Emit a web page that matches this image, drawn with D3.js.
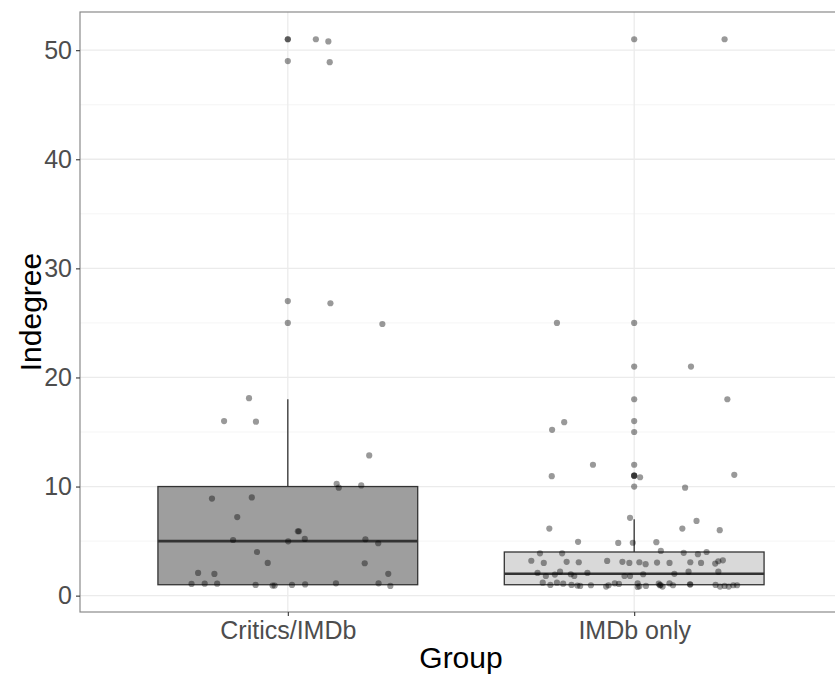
<!DOCTYPE html>
<html>
<head>
<meta charset="utf-8">
<script src="https://cdn.jsdelivr.net/npm/d3@7"></script>
<style>
  body { margin: 0; background: #fff; }
  text { font-family: "Liberation Sans", Arial, sans-serif; }
</style>
</head>
<body>
<svg id="chart" width="835" height="675"></svg>
<script>
// groups and box statistics
var groups = ["Critics/IMDb", "IMDb only"];
var boxFill = ["#9e9e9e", "#d9d9d9"];
var q1 = [1, 1];
var median = [5, 2];
var q3 = [10, 4];
var whiskerLow = [1, 1];
var whiskerHigh = [18, 7];
var outliersCritics = [51, 51, 49, 27, 25];
var outliersImdb = [51, 25, 21, 18, 16, 15, 12, 11, 11, 11, 10];

// jittered points: [x offset from group centre, indegree]
var jitterCritics = [
  [0.081, 51.0], [0.117, 50.8], [0.121, 48.9], [0.123, 26.8], [0.273, 24.9],
  [-0.112, 18.1], [-0.184, 16.0], [-0.092, 15.95], [0.235, 12.85],
  [0.141, 10.25], [0.147, 9.9], [0.212, 10.1], [-0.219, 8.9], [-0.104, 9.0],
  [-0.146, 7.2], [0.029, 5.9], [0.032, 5.9], [-0.158, 5.1], [0.001, 4.98],
  [0.049, 5.2], [0.224, 5.17], [0.261, 4.8], [-0.089, 4.0], [-0.058, 3.0],
  [0.222, 2.97], [-0.259, 2.08], [-0.212, 1.99], [0.290, 2.0],
  [-0.278, 1.07], [-0.240, 1.1], [-0.204, 1.1], [-0.093, 0.98],
  [-0.044, 0.92], [-0.038, 0.92], [0.012, 0.98], [0.050, 1.03],
  [0.139, 1.13], [0.262, 1.13], [0.296, 0.89]
];
var jitterImdb = [
  [0.261, 51.0], [-0.223, 25.0], [0.164, 21.0], [0.269, 18.0], [-0.202, 15.9],
  [-0.237, 15.2], [-0.119, 12.0], [-0.238, 10.95], [0.017, 10.85], [0.289, 11.07],
  [0.147, 9.9], [-0.012, 7.13], [0.180, 6.85], [-0.245, 6.15], [0.139, 6.15],
  [0.247, 6.0], [-0.162, 4.93], [-0.046, 4.83], [-0.004, 4.85], [0.064, 4.9],
  [-0.272, 3.88], [-0.208, 3.88], [0.077, 4.1], [0.143, 3.92], [0.184, 3.8],
  [0.209, 4.0], [-0.297, 3.2], [-0.261, 3.0], [-0.195, 3.1], [-0.160, 3.06],
  [-0.078, 3.18], [-0.034, 3.1], [-0.014, 3.0], [0.015, 3.06], [0.033, 2.88],
  [0.066, 3.03], [0.102, 3.0], [0.162, 3.06], [0.193, 3.0], [0.234, 2.94],
  [0.243, 3.15], [0.256, 3.24], [-0.279, 2.08], [-0.255, 1.8], [-0.229, 1.93],
  [-0.214, 2.2], [-0.183, 1.96], [-0.173, 1.8], [-0.135, 2.08], [-0.028, 1.8],
  [-0.012, 1.8], [0.026, 1.96], [0.116, 2.0], [0.157, 2.2], [0.243, 2.2],
  [-0.264, 1.19], [-0.242, 0.98], [-0.223, 1.19], [-0.205, 1.1], [-0.181, 0.98],
  [-0.164, 0.92], [-0.156, 0.89], [-0.125, 0.95], [-0.081, 0.83], [-0.074, 0.95],
  [-0.056, 1.13], [-0.044, 1.07], [0.010, 1.13], [0.010, 0.8], [0.015, 0.86],
  [0.034, 0.89], [0.071, 1.1], [0.074, 0.95], [0.076, 0.97], [0.082, 0.83],
  [0.102, 1.13], [0.112, 0.95], [0.161, 1.04], [0.162, 1.02], [0.235, 0.98],
  [0.248, 0.83], [0.261, 0.89], [0.273, 0.83], [0.286, 0.95], [0.297, 0.95]
];
var yTicks = [0, 10, 20, 30, 40, 50];
var yMinor = [5, 15, 25, 35, 45];

var svg = d3.select("#chart");
// panel edges (the right border falls just outside the picture)
var pLeft = 80, pRight = 842, pTop = 12, pBottom = 612;

// discrete x positions 1, 2 with ggplot's 0.6 expansion
var x = d3.scaleLinear().domain([0.4, 2.6]).range([pLeft, pRight]);
var y = d3.scaleLinear().domain([-1.5, 53.5]).range([pBottom, pTop]);
var boxHalf = 0.375;

// grid
var grid = svg.append("g");
grid.selectAll(".minor").data(yMinor).enter().append("line")
    .attr("x1", pLeft).attr("x2", pRight)
    .attr("y1", d => y(d)).attr("y2", d => y(d))
    .attr("stroke", "#f2f2f2").attr("stroke-width", 0.8);
grid.selectAll(".major").data(yTicks).enter().append("line")
    .attr("x1", pLeft).attr("x2", pRight)
    .attr("y1", d => y(d)).attr("y2", d => y(d))
    .attr("stroke", "#ebebeb").attr("stroke-width", 1.3);
grid.selectAll(".vmajor").data(groups).enter().append("line")
    .attr("x1", (d, i) => x(i + 1)).attr("x2", (d, i) => x(i + 1))
    .attr("y1", pTop).attr("y2", pBottom)
    .attr("stroke", "#ebebeb").attr("stroke-width", 1.3);

// boxes
var boxes = svg.append("g");
groups.forEach(function(g, i) {
    var cx = i + 1;
    boxes.append("line")
        .attr("x1", x(cx)).attr("x2", x(cx))
        .attr("y1", y(q3[i])).attr("y2", y(whiskerHigh[i]))
        .attr("stroke", "#333").attr("stroke-width", 1.3);
    boxes.append("line")
        .attr("x1", x(cx)).attr("x2", x(cx))
        .attr("y1", y(q1[i])).attr("y2", y(whiskerLow[i]))
        .attr("stroke", "#333").attr("stroke-width", 1.3);
    boxes.append("rect")
        .attr("x", x(cx - boxHalf))
        .attr("y", y(q3[i]))
        .attr("width", x(cx + boxHalf) - x(cx - boxHalf))
        .attr("height", y(q1[i]) - y(q3[i]))
        .attr("fill", boxFill[i])
        .attr("stroke", "#333").attr("stroke-width", 1.3);
    boxes.append("line")
        .attr("x1", x(cx - boxHalf)).attr("x2", x(cx + boxHalf))
        .attr("y1", y(median[i])).attr("y2", y(median[i]))
        .attr("stroke", "#333").attr("stroke-width", 2.6);
});

// outliers (at the group centre) and jittered points
var pts = svg.append("g").attr("fill", "#000").attr("fill-opacity", 0.4);
[outliersCritics, outliersImdb].forEach(function(arr, i) {
    pts.selectAll(null).data(arr).enter().append("circle")
        .attr("cx", x(i + 1)).attr("cy", d => y(d)).attr("r", 3.1);
});
[jitterCritics, jitterImdb].forEach(function(arr, i) {
    pts.selectAll(null).data(arr).enter().append("circle")
        .attr("cx", d => x(i + 1 + d[0])).attr("cy", d => y(d[1])).attr("r", 3.1);
});

// panel border
svg.append("rect")
    .attr("x", pLeft).attr("y", pTop)
    .attr("width", pRight - pLeft).attr("height", pBottom - pTop)
    .attr("fill", "none").attr("stroke", "#8a8a8a").attr("stroke-width", 1.2);

// axes
var yAxis = svg.append("g").attr("transform", "translate(" + pLeft + ",0)")
    .call(d3.axisLeft(y).tickValues(yTicks).tickSize(4).tickPadding(4));
var xAxis = svg.append("g").attr("transform", "translate(0," + pBottom + ")")
    .call(d3.axisBottom(x).tickValues([1, 2]).tickFormat(d => groups[d - 1]).tickSize(4).tickPadding(4));
[yAxis, xAxis].forEach(function(a) {
    a.select(".domain").remove();
    a.selectAll(".tick line").attr("stroke", "#333").attr("stroke-width", 1.1);
    a.selectAll(".tick text").attr("fill", "#4d4d4d").style("font-size", "25px");
});
xAxis.selectAll(".tick text").attr("dy", "0.75em");

// titles
svg.append("text")
    .attr("x", (pLeft + pRight) / 2).attr("y", 668)
    .attr("text-anchor", "middle")
    .style("font-size", "30px").attr("fill", "#000")
    .text("Group");
svg.append("text")
    .attr("transform", "translate(41," + (pTop + pBottom) / 2 + ")rotate(-90)")
    .attr("text-anchor", "middle")
    .style("font-size", "30px").attr("fill", "#000")
    .text("Indegree");
</script>
</body>
</html>
